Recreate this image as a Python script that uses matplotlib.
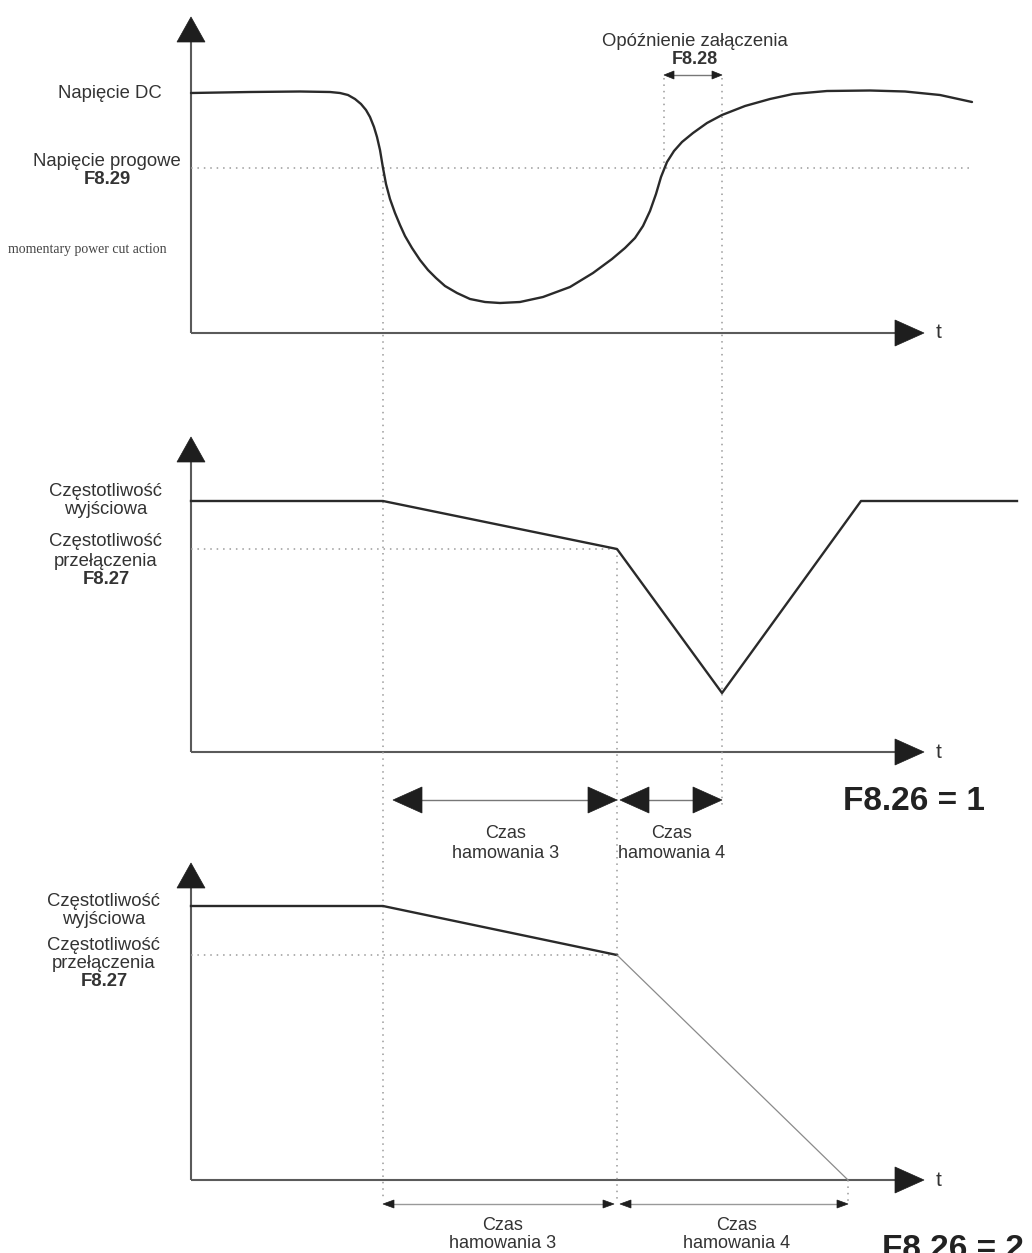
import matplotlib
matplotlib.use("Agg")
import matplotlib.pyplot as plt
from matplotlib.patches import Polygon

W, H = 1032, 1253

# key instants on the common time axis (pixel scale of the drawing)
t_start = 191
t_cut = 383        # power cut
t_switch = 617     # switching frequency reached
t_back = 664       # voltage back above threshold
t_delay = 722      # end of delay F8.28
t_stop = 848       # end of braking 4 (F8.26 = 2)

# panel 1: DC bus voltage
dc_t = [191, 250, 300, 330, 340, 348, 355, 361, 366, 370, 374, 377, 380, 383,
        386, 390, 395, 400, 405, 412, 420, 428, 436, 445, 457, 470, 485, 500,
        520, 543, 570, 593, 612, 625, 635, 643, 650, 656, 661, 667, 674, 682,
        693, 707, 722, 745, 770, 793, 827, 870, 905, 940, 972]
dc_v = [93, 92, 91.5, 92, 93, 95, 99, 104, 110, 117, 127, 137, 150, 168,
        184, 199, 213, 225, 236, 248, 260, 270, 278, 286, 293, 299, 302, 303,
        302, 297, 287, 273, 259, 248, 238, 226, 211, 194, 177, 162, 151, 142,
        133, 123, 115, 106, 99, 94, 91, 90.5, 91.5, 95, 102]
v_threshold = 168

# panel 2: output frequency, F8.26 = 1
f1_t = [191, 383, 617, 722, 861, 1017]
f1_v = [501, 501, 549, 693, 501, 501]
f1_level = 549

# panel 3: output frequency, F8.26 = 2
f2_t = [191, 383, 617, 848]
f2_v = [906, 906, 955, 1180]
f2_level = 955

axis_top = [17, 437, 863]
axis_base = [333, 752, 1180]
axis_end = 924

AX = "#5a5a5a"
TXT = "#333333"
DOT = "#9a9a9a"
LINE = "#2a2a2a"

fig = plt.figure(figsize=(W / 100, H / 100), dpi=100)
ax = fig.add_axes([0, 0, 1, 1])
ax.set_xlim(0, W)
ax.set_ylim(H, 0)
ax.axis("off")

sans = ["Liberation Sans", "DejaVu Sans"]


def tri(pts, color="#1e1e1e"):
    ax.add_patch(Polygon(pts, closed=True, facecolor=color, edgecolor=color, lw=0.5, zorder=5))


def axes_frame(top, base):
    ax.plot([t_start, t_start], [top + 24, base], color=AX, lw=1.5, solid_capstyle="butt")
    tri([(t_start, top), (t_start - 14, top + 25), (t_start + 14, top + 25)])
    ax.plot([t_start, axis_end - 28], [base, base], color=AX, lw=1.5, solid_capstyle="butt")
    tri([(axis_end, base), (axis_end - 29, base - 13), (axis_end - 29, base + 13)])
    ax.text(axis_end + 12, base, "t", fontsize=15, family=sans, color=TXT, va="center", ha="left")


def dotted(xs, ys):
    ax.plot(xs, ys, color=DOT, lw=1.1, linestyle=(0, (1, 3.2)))


def span_arrow(x0, x1, y, hl, hw, color="#1e1e1e", lc="#777777", lw=1.0):
    ax.plot([x0 + hl - 1, x1 - hl + 1], [y, y], color=lc, lw=lw)
    tri([(x0, y), (x0 + hl, y - hw), (x0 + hl, y + hw)], color)
    tri([(x1, y), (x1 - hl, y - hw), (x1 - hl, y + hw)], color)


for top, base in zip(axis_top, axis_base):
    axes_frame(top, base)

# guide lines
dotted([t_start, 972], [v_threshold, v_threshold])
dotted([t_start, t_switch], [f1_level, f1_level])
dotted([t_start, t_switch], [f2_level, f2_level])
dotted([t_cut, t_cut], [v_threshold, 1200])
dotted([t_switch, t_switch], [f1_level, 1200])
dotted([t_back, t_back], [78, v_threshold])
dotted([t_delay, t_delay], [78, 806])
dotted([t_stop, t_stop], [1180, 1203])

# curves
ax.plot(dc_t, dc_v, color=LINE, lw=1.7, solid_joinstyle="round", solid_capstyle="round")
ax.plot(f1_t, f1_v, color=LINE, lw=1.7)
ax.plot(f2_t[:3], f2_v[:3], color=LINE, lw=1.7)
ax.plot(f2_t[2:], f2_v[2:], color="#8a8a8a", lw=0.9)

# time spans
span_arrow(t_back, t_delay, 75, 10, 4)
span_arrow(393, t_switch, 800, 29, 13)
span_arrow(t_switch + 3, t_delay, 800, 29, 13)
span_arrow(t_cut, t_switch - 3, 1204, 11, 4, lc="#999999", lw=1.0)
span_arrow(t_switch + 3, t_stop, 1204, 11, 4, lc="#999999", lw=1.0)

# labels panel 1
ax.text(110, 94, "Napięcie DC", fontsize=13.3, family=sans, color=TXT, ha="center", va="center")
ax.text(107, 161, "Napięcie progowe", fontsize=13.3, family=sans, color=TXT, ha="center", va="center")
ax.text(107, 179, "F8.29", fontsize=13.3, family=sans, weight="bold", color=TXT, ha="center", va="center")
ax.text(87, 250, "momentary power cut action", fontsize=9.9, family=["Liberation Serif", "DejaVu Serif"],
        color="#444444", ha="center", va="center")
ax.text(695, 41, "Opóźnienie załączenia", fontsize=13.3, family=sans, color=TXT, ha="center", va="center")
ax.text(695, 59, "F8.28", fontsize=13, family=sans, weight="bold", color=TXT, ha="center", va="center")

# labels panels 2 and 3
left_labels = ["Częstotliwość", "wyjściowa", "Częstotliwość", "przełączenia", "F8.27"]
for cx, ys in [(106, [492, 510, 542, 561, 579]), (104, [901, 919, 945, 963, 982])]:
    for lab, y in zip(left_labels, ys):
        ax.text(cx, y, lab, fontsize=13.3, family=sans, color=TXT, ha="center", va="center",
                weight="bold" if lab.startswith("F8") else "normal")

for cx, y0 in [(506, 834), (672, 834), (503, 1225), (737, 1225)]:
    n = "3" if cx < 600 else "4"
    ax.text(cx, y0, "Czas", fontsize=13, family=sans, color=TXT, ha="center", va="center")
    ax.text(cx, y0 + 19, "hamowania " + n, fontsize=13, family=sans, color=TXT, ha="center", va="center")

ax.text(914, 802, "F8.26 = 1", fontsize=24, family=sans, weight="bold", color="#222222",
        ha="center", va="center")
ax.text(882, 1249, "F8.26 = 2", fontsize=24, family=sans, weight="bold", color="#222222",
        ha="left", va="center")

fig.savefig("out.png", dpi=100, facecolor="white")
